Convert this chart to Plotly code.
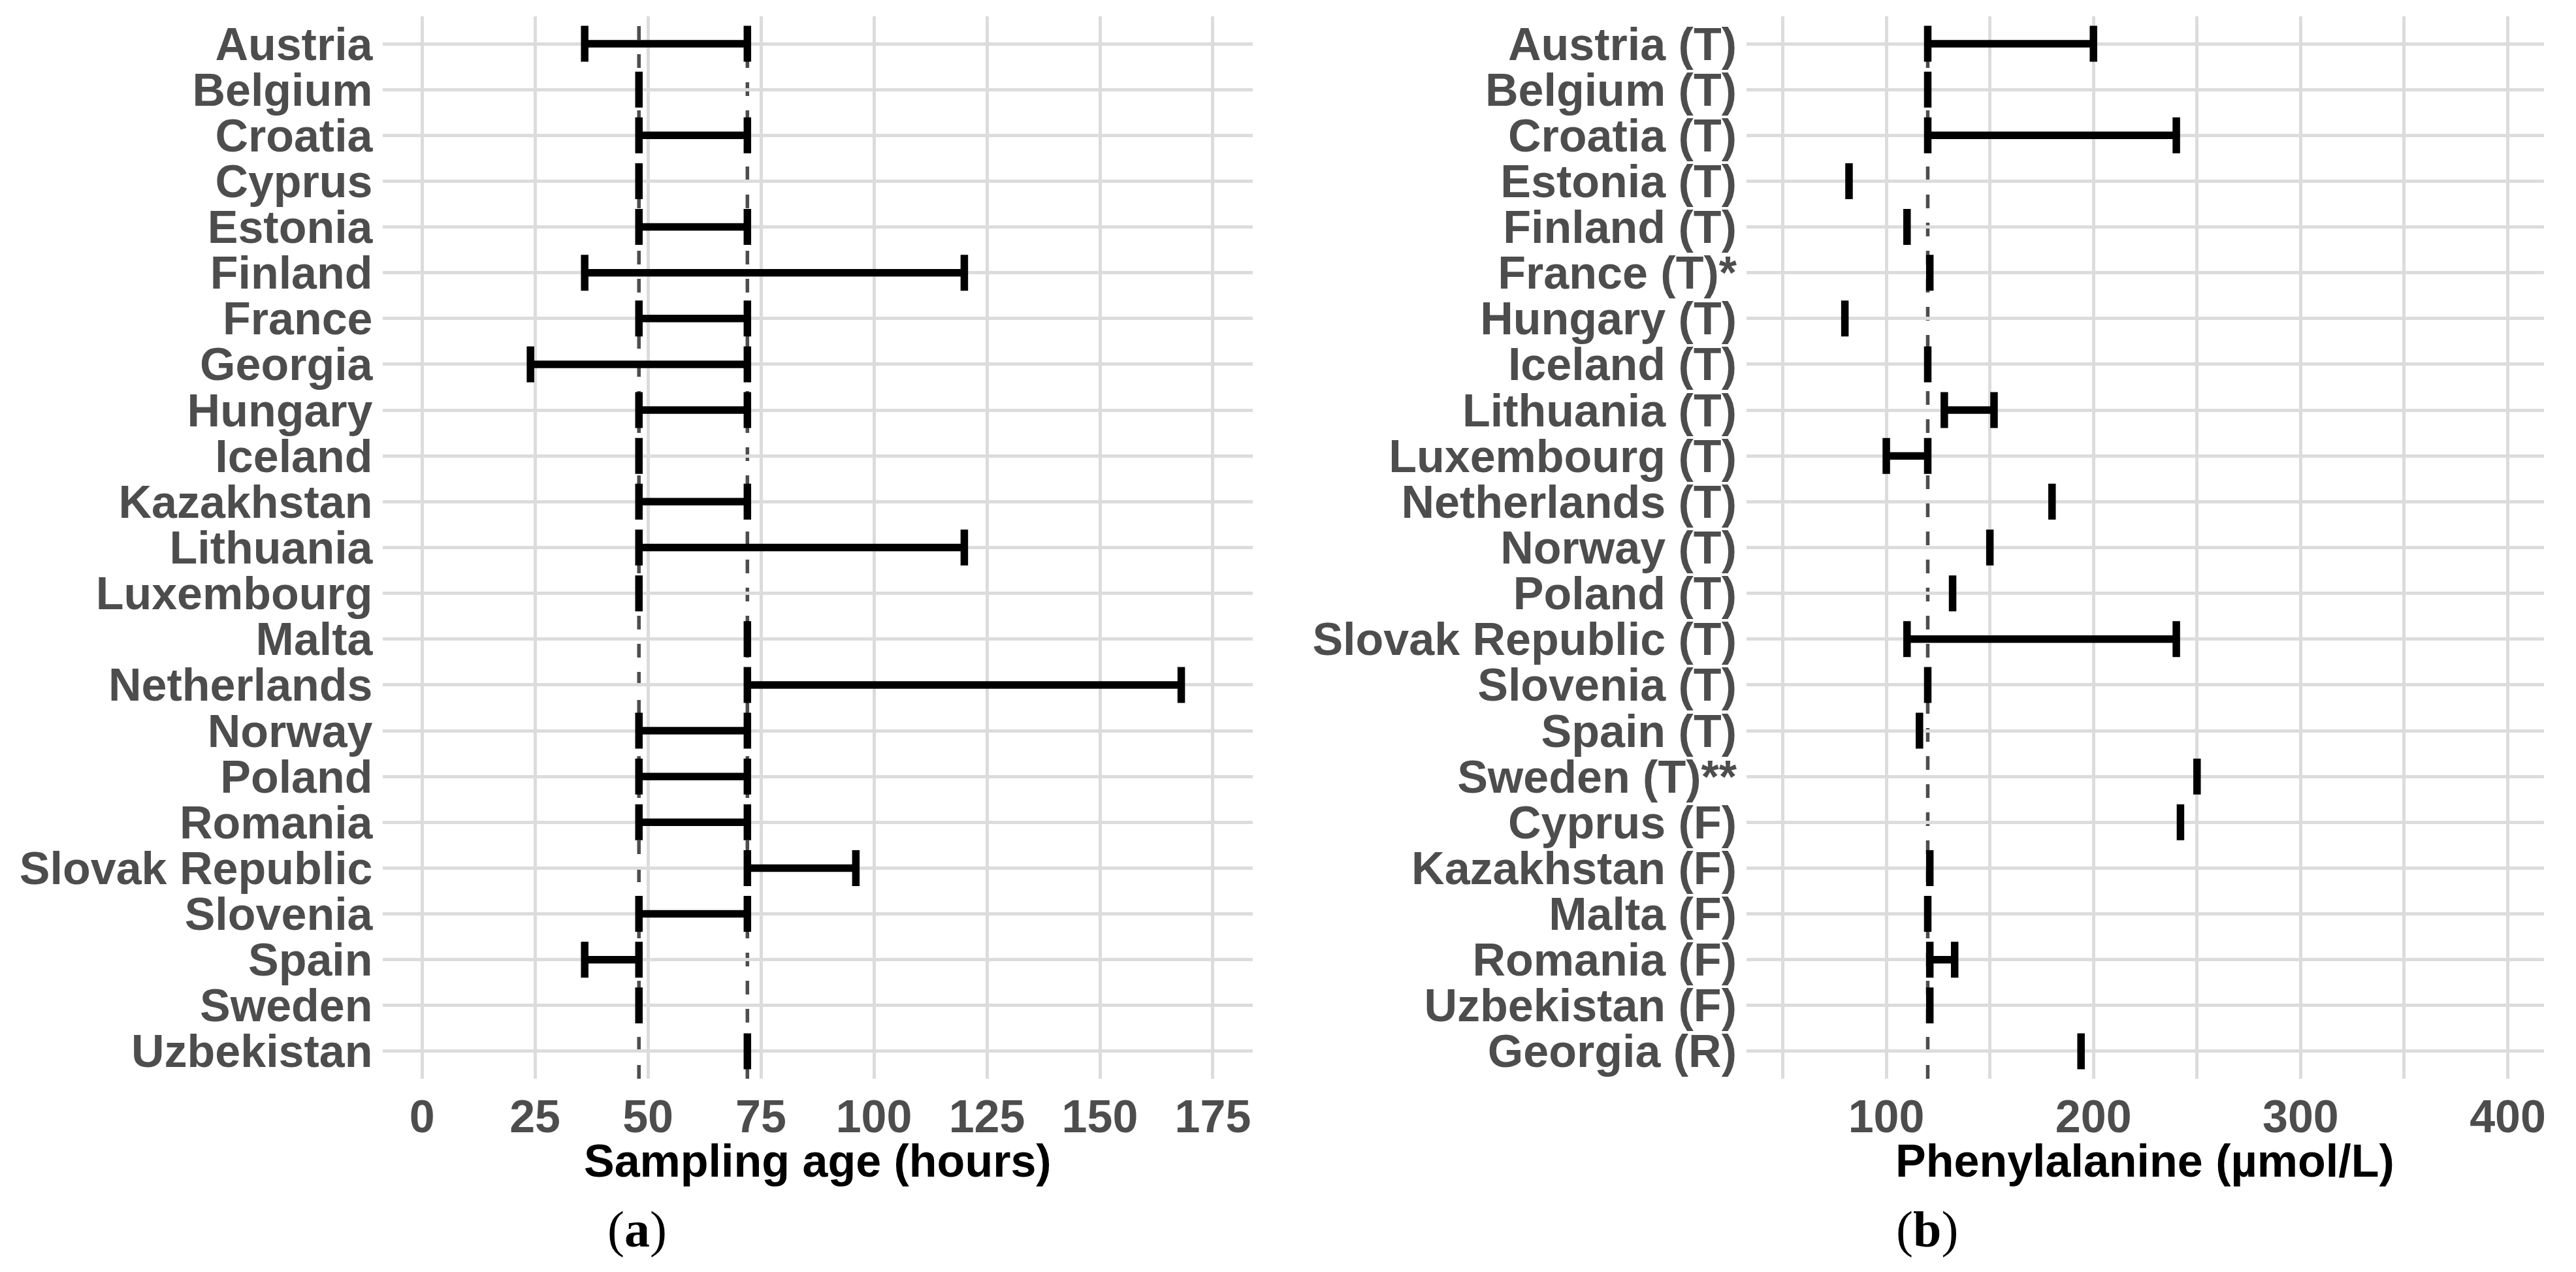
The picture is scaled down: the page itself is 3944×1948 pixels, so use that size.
import plotly.graph_objects as go

# ---------------- data ----------------
countries_a = ["Austria", "Belgium", "Croatia", "Cyprus", "Estonia", "Finland", "France",
               "Georgia", "Hungary", "Iceland", "Kazakhstan", "Lithuania", "Luxembourg",
               "Malta", "Netherlands", "Norway", "Poland", "Romania", "Slovak Republic",
               "Slovenia", "Spain", "Sweden", "Uzbekistan"]
age_low = [36, 48, 48, 48, 48, 36, 48, 24, 48, 48, 48, 48, 48, 72, 72, 48, 48, 48, 72, 48, 36, 48, 72]
age_high = [72, 48, 72, 48, 72, 120, 72, 72, 72, 48, 72, 120, 48, 72, 168, 72, 72, 72, 96, 72, 48, 48, 72]

countries_b = ["Austria (T)", "Belgium (T)", "Croatia (T)", "Estonia (T)", "Finland (T)",
               "France (T)*", "Hungary (T)", "Iceland (T)", "Lithuania (T)", "Luxembourg (T)",
               "Netherlands (T)", "Norway (T)", "Poland (T)", "Slovak Republic (T)",
               "Slovenia (T)", "Spain (T)", "Sweden (T)**", "Cyprus (F)", "Kazakhstan (F)",
               "Malta (F)", "Romania (F)", "Uzbekistan (F)", "Georgia (R)"]
phe_low = [120, 120, 120, 82, 110, 121, 80, 120, 128, 100, 180, 150, 132, 110, 120, 116, 250, 242, 121, 120, 121, 121, 194]
phe_high = [200, 120, 240, 82, 110, 121, 80, 120, 152, 120, 180, 150, 132, 240, 120, 116, 250, 242, 121, 120, 133, 121, 194]

age_refs = [48, 72]
phe_refs = [120]
age_ticks = [0, 25, 50, 75, 100, 125, 150, 175]
phe_ticks = [100, 200, 300, 400]
phe_minor = [50, 150, 250, 350]
age_limits = [0, 175]
phe_limits = [50, 400]

# ---------------- styling ----------------
W, H = 3944, 1948
SANS = "Liberation Sans, Arial, sans-serif"
SERIF = "Liberation Serif, Times New Roman, serif"
GRID = "#DCDCDC"
GRIDW = 4.5
TICKC = "#4D4D4D"
FS = 70
REFC = "#4D4D4D"


def expand(lim, f=0.05):
    d = (lim[1] - lim[0]) * f
    return [lim[0] - d, lim[1] + d]


def px_x(p):
    return p / W


def px_y(p):
    return 1 - p / H


ydom = [px_y(1652), px_y(25)]
xdom_a = [px_x(586), px_x(1919)]
xdom_b = [px_x(2676), px_x(3898)]

fig = go.Figure()


def add_panel(cats, low, high, xa, ya):
    fig.add_trace(go.Scatter(
        x=low, y=cats, mode="markers",
        marker=dict(size=2, color="rgba(0,0,0,0)"),
        error_x=dict(type="data", symmetric=False,
                     array=[h - l for l, h in zip(low, high)],
                     arrayminus=[0] * len(low),
                     width=27.5, thickness=11.5, color="black"),
        xaxis=xa, yaxis=ya, hoverinfo="skip", showlegend=False))


add_panel(countries_a, age_low, age_high, "x", "y")
add_panel(countries_b, phe_low, phe_high, "x2", "y2")

axis_common = dict(showgrid=True, gridcolor=GRID, gridwidth=GRIDW, zeroline=False,
                   showline=False, ticks="",
                   tickfont=dict(family=SANS, size=FS, color=TICKC, weight="bold"))

n = len(countries_a)
fig.update_layout(
    width=W, height=H, margin=dict(l=0, r=0, t=0, b=0),
    paper_bgcolor="white", plot_bgcolor="white", showlegend=False,
    xaxis=dict(domain=xdom_a, anchor="y", range=expand(age_limits), tickmode="array",
               tickvals=age_ticks, ticklabelstandoff=11, **axis_common),
    yaxis=dict(domain=ydom, anchor="x", type="category", categoryorder="array",
               categoryarray=countries_a, range=[n - 1 + 0.6, -0.6],
               tickmode="array", tickvals=countries_a,
               ticklabelstandoff=14, **axis_common),
    xaxis2=dict(domain=xdom_b, anchor="y2", range=expand(phe_limits), tickmode="array",
                tickvals=phe_ticks, ticklabelstandoff=11,
                minor=dict(tickmode="array", tickvals=phe_minor, showgrid=True,
                           gridcolor=GRID, gridwidth=GRIDW),
                **axis_common),
    yaxis2=dict(domain=ydom, anchor="x2", type="category", categoryorder="array",
                categoryarray=countries_b, range=[n - 1 + 0.6, -0.6],
                tickmode="array", tickvals=countries_b,
                ticklabelstandoff=14, **axis_common),
)

for v in age_refs:
    fig.add_shape(type="line", xref="x", yref="y domain", x0=v, x1=v, y0=0, y1=1,
                  line=dict(color=REFC, width=5.5, dash="21px,22px"), layer="below")
for v in phe_refs:
    fig.add_shape(type="line", xref="x2", yref="y2 domain", x0=v, x1=v, y0=0, y1=1,
                  line=dict(color=REFC, width=5.5, dash="21px,22px"), layer="below")

title_y = px_y(1778)
fig.add_annotation(text="Sampling age (hours)", xref="paper", yref="paper",
                   x=sum(xdom_a) / 2, y=title_y, xanchor="center", yanchor="middle",
                   showarrow=False, font=dict(family=SANS, size=FS, color="black", weight="bold"))
fig.add_annotation(text="Phenylalanine (µmol/L)", xref="paper", yref="paper",
                   x=sum(xdom_b) / 2, y=title_y, xanchor="center", yanchor="middle",
                   showarrow=False, font=dict(family=SANS, size=FS, color="black", weight="bold"))

lab_y = px_y(1882)
fig.add_annotation(text="(<b>a</b>)", xref="paper", yref="paper", x=px_x(976), y=lab_y,
                   xanchor="center", yanchor="middle", showarrow=False,
                   font=dict(family=SERIF, size=78, color="black"))
fig.add_annotation(text="(<b>b</b>)", xref="paper", yref="paper", x=px_x(2953), y=lab_y,
                   xanchor="center", yanchor="middle", showarrow=False,
                   font=dict(family=SERIF, size=78, color="black"))

fig.write_html("out.html", config={"displayModeBar": False},
               post_script="document.body.style.margin='0';document.body.style.overflow='hidden';")
